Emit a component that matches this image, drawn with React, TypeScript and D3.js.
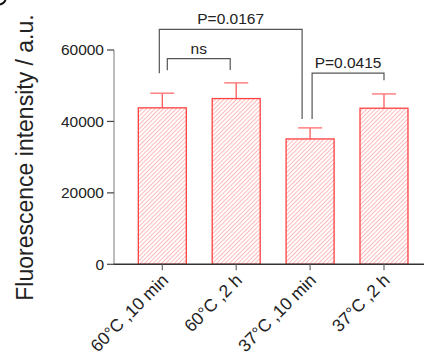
import React from "react";
import * as d3 from "d3";

const categories = ["60°C ,10 min", "60°C ,2 h", "37°C ,10 min", "37°C ,2 h"];
const means = [43800, 46400, 35100, 43700];
const sds = [4100, 4400, 3100, 4000];
const yTicks = [0, 20000, 40000, 60000];
// significance brackets
const bracketLeft = [0, 0, 2];
const bracketRight = [1, 2, 3];
const bracketLabels = ["ns", "P=0.0167", "P=0.0415"];
const bracketTopVals = [57600, 65800, 53500];
const bracketLeftVals = [54300, 53500, 40700];
const bracketRightVals = [54400, 40700, 51500];
const bracketLeftDx = [5, -3, 2];
const bracketRightDx = [-6, -8, 0];

const FONT = "'Liberation Sans', Arial, sans-serif";

export default function App() {
  const W = 425, H = 362;
  const y = d3.scaleLinear().domain([0, 60000]).range([264.3, 50]);
  const x = d3
    .scaleBand<string>()
    .domain(categories)
    .range([114, 432.3])
    .paddingInner(0.3505)
    .paddingOuter(0.329);
  const bw = x.bandwidth();
  const cx = (i: number) => (x(categories[i]) as number) + bw / 2;

  return (
    <svg width={W} height={H} style={{ position: "absolute", left: 0, top: 0 }}>
      <defs>
        <pattern id="hatch" patternUnits="userSpaceOnUse" width="3" height="3" patternTransform="rotate(45)">
          <line x1="0" y1="0" x2="0" y2="3" stroke="#ff8080" strokeWidth="1.1" />
        </pattern>
      </defs>
      <rect x={0} y={0} width={W} height={H} fill="#fff" />
      {/* fragment of a cropped panel letter */}
      <path d="M0,4.5 Q4,4 5.5,0" fill="none" stroke="#111" strokeWidth={2} />
      {/* bars */}
      {categories.map((c, i) => {
        const x0 = x(c) as number;
        const top = y(means[i]);
        const capY = y(means[i] + sds[i]);
        const mid = x0 + bw / 2;
        return (
          <g key={c}>
            <line x1={mid} x2={mid} y1={top} y2={capY} stroke="#ff5a5a" strokeWidth={1.3} />
            <line x1={mid - 12} x2={mid + 12} y1={capY} y2={capY} stroke="#ff8080" strokeWidth={1.5} />
            <rect x={x0} y={top} width={bw} height={y(0) - top} fill="url(#hatch)" stroke="#ff4040" strokeWidth={1.3} />
          </g>
        );
      })}
      {/* y axis */}
      <line x1={114} x2={114} y1={y(60000)} y2={y(0)} stroke="#999" strokeWidth={1.3} />
      {yTicks.map((t) => (
        <g key={t}>
          <line x1={107} x2={114} y1={y(t)} y2={y(t)} stroke="#444" strokeWidth={1.2} />
          <text x={104} y={y(t)} dy="0.35em" textAnchor="end" fontFamily={FONT} fontSize={15.5} fill="#222">
            {t}
          </text>
        </g>
      ))}
      {/* x axis */}
      <line x1={114} x2={424} y1={y(0)} y2={y(0)} stroke="#333" strokeWidth={1.4} />
      {categories.map((c, i) => (
        <g key={"xt" + c}>
          <line x1={cx(i)} x2={cx(i)} y1={y(0)} y2={y(0) + 6} stroke="#666" strokeWidth={1.2} />
          <text
            transform={`translate(${cx(i) + 7},${y(0) + 17}) rotate(-45)`}
            textAnchor="end"
            fontFamily={FONT}
            fontSize={17.5}
            fill="#222"
          >
            {c}
          </text>
        </g>
      ))}
      {/* brackets */}
      {bracketLabels.map((lab, k) => {
        const xl = cx(bracketLeft[k]) + bracketLeftDx[k];
        const xr = cx(bracketRight[k]) + bracketRightDx[k];
        const yt = y(bracketTopVals[k]);
        return (
          <g key={lab}>
            <path
              d={`M${xl},${y(bracketLeftVals[k])}V${yt}H${xr}V${y(bracketRightVals[k])}`}
              fill="none"
              stroke="#555"
              strokeWidth={1.2}
            />
            <text x={(xl + xr) / 2} y={yt - 5} textAnchor="middle" fontFamily={FONT} fontSize={15.5} fill="#222">
              {lab}
            </text>
          </g>
        );
      })}
      {/* y title */}
      <text
        transform={`translate(33,157.5) rotate(-90)`}
        textAnchor="middle"
        fontFamily={FONT}
        fontSize={23}
        fill="#222"
      >
        Fluorescence intensity / a.u.
      </text>
    </svg>
  );
}
